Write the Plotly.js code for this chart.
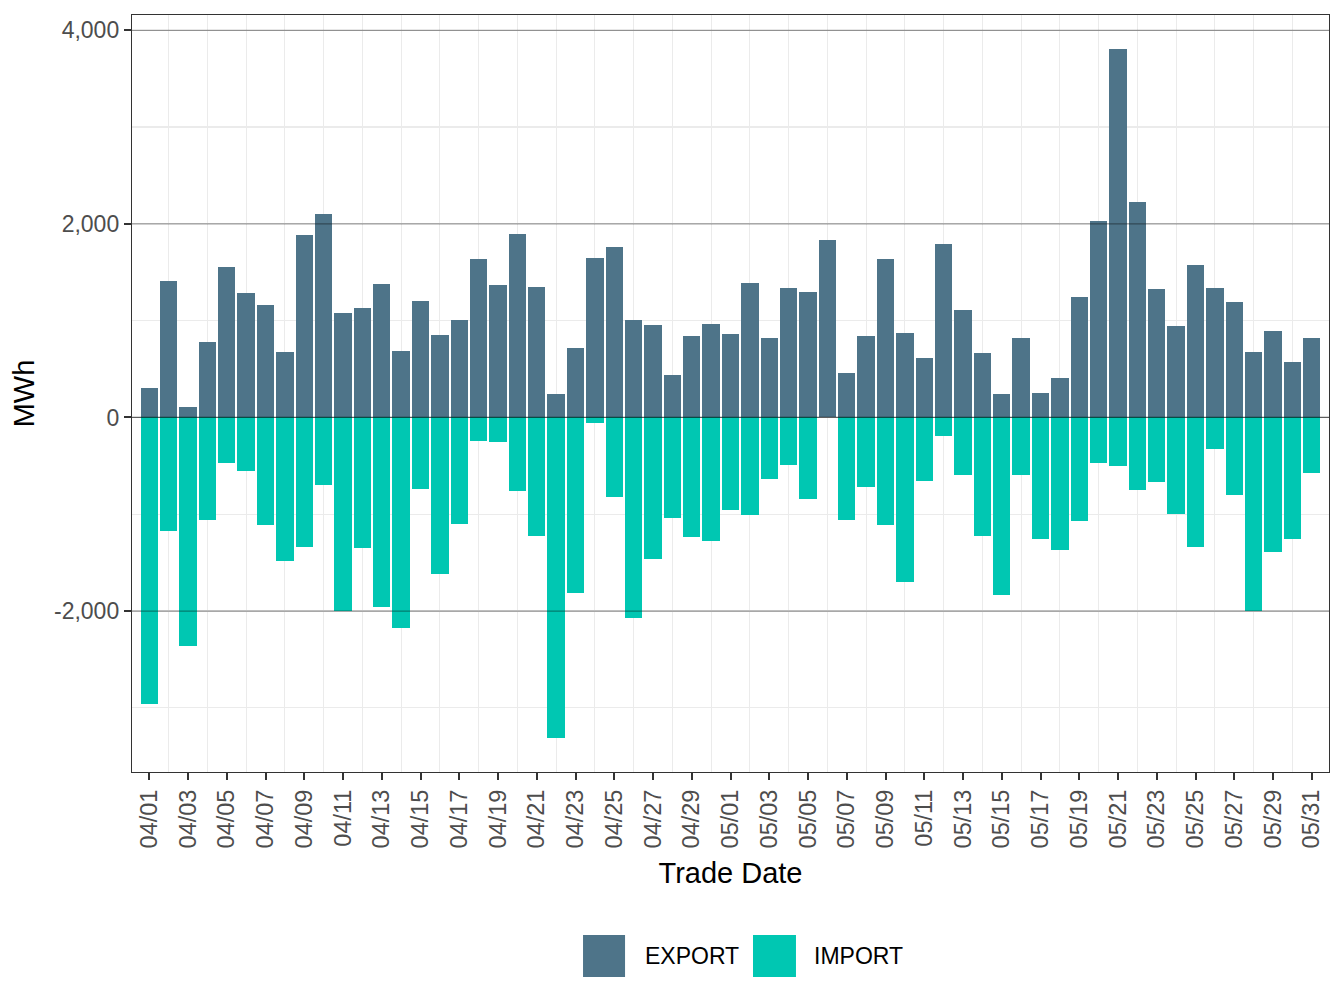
<!DOCTYPE html>
<html>
<head>
<meta charset="utf-8">
<script src="https://cdn.plot.ly/plotly-3.0.1.min.js"></script>
<style>html,body{margin:0;padding:0;background:#fff;}#chart{width:1344px;height:1008px;}</style>
</head>
<body>
<div id="chart"></div>
<script>
const tradeDates = [
  "2024-04-01","2024-04-02","2024-04-03","2024-04-04","2024-04-05","2024-04-06","2024-04-07","2024-04-08","2024-04-09","2024-04-10",
  "2024-04-11","2024-04-12","2024-04-13","2024-04-14","2024-04-15","2024-04-16","2024-04-17","2024-04-18","2024-04-19","2024-04-20",
  "2024-04-21","2024-04-22","2024-04-23","2024-04-24","2024-04-25","2024-04-26","2024-04-27","2024-04-28","2024-04-29","2024-04-30",
  "2024-05-01","2024-05-02","2024-05-03","2024-05-04","2024-05-05","2024-05-06","2024-05-07","2024-05-08","2024-05-09","2024-05-10",
  "2024-05-11","2024-05-12","2024-05-13","2024-05-14","2024-05-15","2024-05-16","2024-05-17","2024-05-18","2024-05-19","2024-05-20",
  "2024-05-21","2024-05-22","2024-05-23","2024-05-24","2024-05-25","2024-05-26","2024-05-27","2024-05-28","2024-05-29","2024-05-30",
  "2024-05-31"
];
const exportMWh = [
  303,1408,107,778,1553,1284,1160,675,1883,2100,
  1078,1129,1377,685,1201,850,1005,1635,1367,1893,
  1346,241,716,1646,1760,1005,954,437,840,964,
  861,1388,819,1336,1295,1832,458,840,1635,871,
  613,1790,1109,665,241,819,251,406,1243,2028,
  3805,2224,1325,943,1573,1336,1191,675,892,571,
  819
];
const importMWh = [
  -2960,-1172,-2361,-1058,-469,-551,-1110,-1482,-1337,-696,
  -1999,-1348,-1958,-2175,-737,-1616,-1099,-241,-251,-758,
  -1223,-3312,-1813,-55,-820,-2071,-1461,-1037,-1234,-1275,
  -955,-1006,-634,-489,-841,0,-1058,-717,-1110,-1699,
  -655,-189,-593,-1223,-1834,-593,-1254,-1368,-1068,-469,
  -500,-748,-665,-996,-1337,-324,-800,-1999,-1389,-1254,
  -572
];
const yTickVals = [-2000, 0, 2000, 4000];
const yTickText = ["-2,000", "0", "2,000", "4,000"];
const seriesNames = ["EXPORT", "IMPORT"];
const seriesColors = ["#4E7489", "#00C7B2"];

const DAY = 86400000;
const FONT = "Liberation Sans, Arial, Helvetica, sans-serif";

const traces = [
  {type:"bar", name:seriesNames[0], x:tradeDates, y:exportMWh, width:0.9*DAY,
   marker:{color:seriesColors[0], line:{width:0}}, showlegend:false, hoverinfo:"x+y+name"},
  {type:"bar", name:seriesNames[1], x:tradeDates, y:importMWh, width:0.9*DAY,
   marker:{color:seriesColors[1], line:{width:0}}, showlegend:false, hoverinfo:"x+y+name"}
];

const first = new Date(tradeDates[0] + "T00:00:00Z").getTime();
const last = new Date(tradeDates[tradeDates.length-1] + "T00:00:00Z").getTime();
const pad = 0.89 * DAY;
function iso(t){ return new Date(t).toISOString().replace("T"," ").replace("Z",""); }

const shapes = yTickVals.map(v => ({
  type:"line", xref:"paper", x0:0, x1:1, yref:"y", y0:v, y1:v, layer:"above",
  line:{color: v === 0 ? "rgba(0,0,0,0.6)" : "rgba(0,0,0,0.38)", width: v === 0 ? 1.2 : 1.3}
}));
// legend keys
const keyX = [[0.3768,0.4119],[0.5188,0.5547]];
const textX = [0.4266, 0.5683];
const annotations = [];
seriesNames.forEach((n,i) => {
  shapes.push({type:"rect", xref:"paper", yref:"paper", x0:keyX[i][0], x1:keyX[i][1], y0:-0.2708, y1:-0.2153,
    fillcolor:seriesColors[i], line:{width:0}, layer:"above"});
  annotations.push({xref:"paper", yref:"paper", x:textX[i], y:-0.2431, xanchor:"left", yanchor:"middle",
    text:n, showarrow:false, font:{family:FONT, size:23, color:"#000"}});
});

const layout = {
  width:1344, height:1008,
  paper_bgcolor:"#fff", plot_bgcolor:"#fff",
  margin:{l:132, r:15, t:15, b:236},
  barmode:"relative",
  bargap:0,
  showlegend:false,
  font:{family:FONT},
  xaxis:{
    type:"date",
    range:[iso(first - pad), iso(last + pad)],
    tick0:tradeDates[0], dtick:2*DAY, tickformat:"%m/%d", tickangle:-90,
    ticks:"outside", ticklen:7, tickwidth:2, tickcolor:"#333",
    tickfont:{family:FONT, size:23.5, color:"#4D4D4D"},
    showgrid:false, zeroline:false,
    minor:{tick0:tradeDates[1], dtick:2*DAY, showgrid:true, gridcolor:"#EBEBEB", gridwidth:1.2, ticks:""},
    showline:true, mirror:true, linecolor:"#333", linewidth:1.2,
    title:{text:"Trade Date", font:{family:FONT, size:29, color:"#000"}, standoff:15},
    automargin:false
  },
  yaxis:{
    range:[-3663, 4158],
    tickmode:"array", tickvals:yTickVals, ticktext:yTickText,
    ticks:"outside", ticklen:7, tickwidth:2, tickcolor:"#333",
    tickfont:{family:FONT, size:23, color:"#4D4D4D"},
    showgrid:false, zeroline:false,
    minor:{dtick:1000, tick0:1000, showgrid:true, gridcolor:"#EBEBEB", gridwidth:1.2, ticks:""},
    showline:true, mirror:true, linecolor:"#333", linewidth:1.2,
    title:{text:"MWh", font:{family:FONT, size:29, color:"#000"}, standoff:10},
    automargin:false
  },
  shapes:shapes,
  annotations:annotations
};

Plotly.newPlot("chart", traces, layout, {displayModeBar:false, staticPlot:true});
</script>
</body>
</html>
